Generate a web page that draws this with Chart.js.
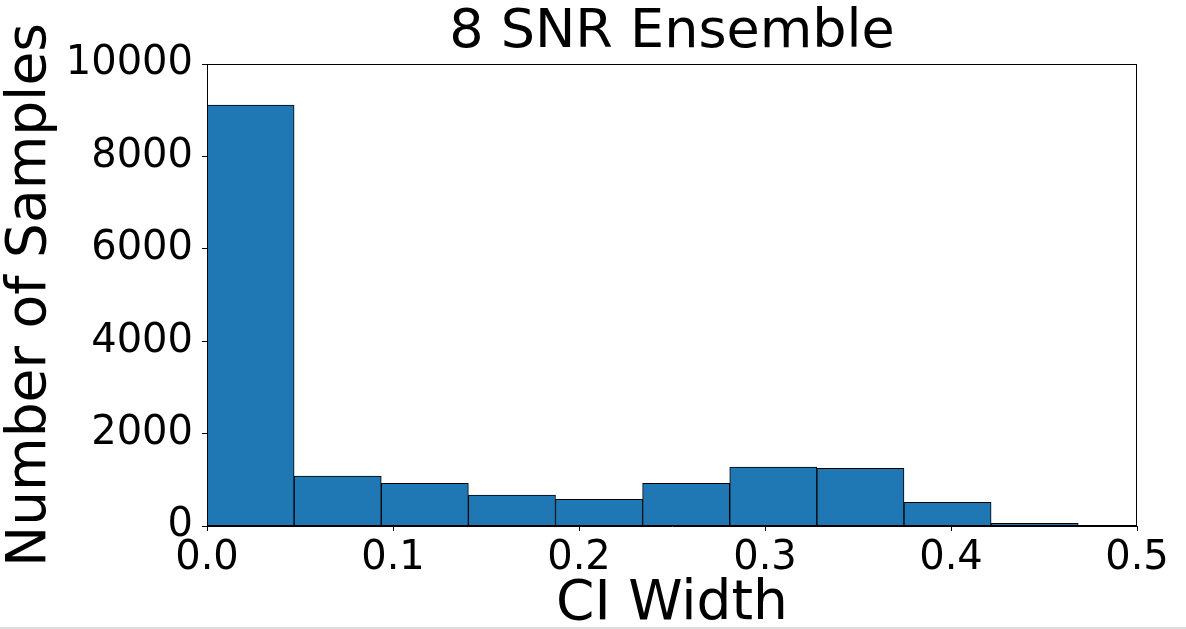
<!DOCTYPE html>
<html>
<head>
<meta charset="utf-8">
<script src="https://cdn.jsdelivr.net/npm/chart.js@4.4.1/dist/chart.umd.min.js"></script>
<style>
  html, body { margin: 0; padding: 0; background: #fff; }
  #wrap { position: relative; width: 1186px; height: 627px; }
  #strip { width: 1186px; height: 2px; background: #dcdcdc; }
</style>
</head>
<body>
<div id="wrap"><canvas id="c" width="1186" height="627"></canvas></div>
<div id="strip"></div>
<script>
// Histogram bins (centers of bins of width ~0.04684, range 0 to ~0.4684)
const binCenters = [0.02342, 0.07026, 0.11710, 0.16394, 0.21078, 0.25762, 0.30446, 0.35130, 0.39814, 0.44498];
const counts = [9113, 1082, 924, 671, 578, 924, 1277, 1249, 513, 58];
const xTicks = [0.0, 0.1, 0.2, 0.3, 0.4, 0.5];
const yTicks = [0, 2000, 4000, 6000, 8000, 10000];
const titleText = '8 SNR Ensemble';
const xLabel = 'CI Width';
const yLabel = 'Number of Samples';

const FONT = "'DejaVu Sans', sans-serif";

const frame = {
  id: 'frame',
  afterDatasetsDraw(chart) {
    const a = chart.chartArea, ctx = chart.ctx;
    ctx.save();
    ctx.strokeStyle = '#000';
    ctx.lineWidth = 1;
    ctx.strokeRect(Math.round(a.left) + 0.5, Math.round(a.top) + 0.5,
                   Math.round(a.right - a.left) - 1, Math.round(a.bottom - a.top) - 1);
    ctx.restore();
  }
};

// Title centred over the plot area (as in the reference)
const plotTitle = {
  id: 'plotTitle',
  afterDraw(chart) {
    const a = chart.chartArea, ctx = chart.ctx;
    ctx.save();
    ctx.fillStyle = '#000';
    ctx.font = "54px " + FONT;
    ctx.textAlign = 'center';
    ctx.textBaseline = 'alphabetic';
    ctx.fillText(titleText, (a.left + a.right) / 2, 47);
    ctx.restore();
  }
};

new Chart(document.getElementById('c'), {
  type: 'bar',
  data: {
    datasets: [{
      data: binCenters.map((x, i) => ({ x: x, y: counts[i] })),
      backgroundColor: '#1f77b4',
      borderColor: '#000',
      borderWidth: 1,
      barPercentage: 1.0,
      categoryPercentage: 1.0
    }]
  },
  options: {
    responsive: false,
    animation: false,
    layout: { padding: { left: 0, right: 49, top: 64, bottom: 0 } },
    plugins: {
      legend: { display: false },
      tooltip: { enabled: false },
      title: { display: false }
    },
    scales: {
      x: {
        type: 'linear',
        min: 0,
        max: 0.5,
        offset: false,
        afterBuildTicks(scale) { scale.ticks = xTicks.map(v => ({ value: v })); },
        afterFit(scale) { scale.height = 101; },
        ticks: {
          color: '#000',
          font: { family: FONT, size: 40 },
          padding: 4,
          maxRotation: 0,
          autoSkip: false,
          callback: v => Number(v).toFixed(1)
        },
        grid: { display: true, drawOnChartArea: false, drawTicks: true, tickLength: 5, color: '#000', offset: false },
        border: { display: true, color: '#000', width: 1 },
        title: {
          display: true,
          text: xLabel,
          color: '#000',
          font: { family: FONT, size: 55, lineHeight: 1 },
          padding: { top: 0, bottom: -5 }
        }
      },
      y: {
        min: 0,
        max: 10000,
        afterBuildTicks(scale) { scale.ticks = yTicks.map(v => ({ value: v })); },
        afterFit(scale) { scale.width = 207; },
        ticks: {
          color: '#000',
          font: { family: FONT, size: 40 },
          padding: 9,
          callback: v => String(v)
        },
        grid: { display: true, drawOnChartArea: false, drawTicks: true, tickLength: 5, color: '#000' },
        border: { display: true, color: '#000', width: 1 },
        title: {
          display: true,
          text: yLabel,
          color: '#000',
          font: { family: FONT, size: 55, lineHeight: 1 },
          padding: { top: 3, bottom: 0 }
        }
      }
    }
  },
  plugins: [frame, plotTitle]
});
</script>
</body>
</html>
